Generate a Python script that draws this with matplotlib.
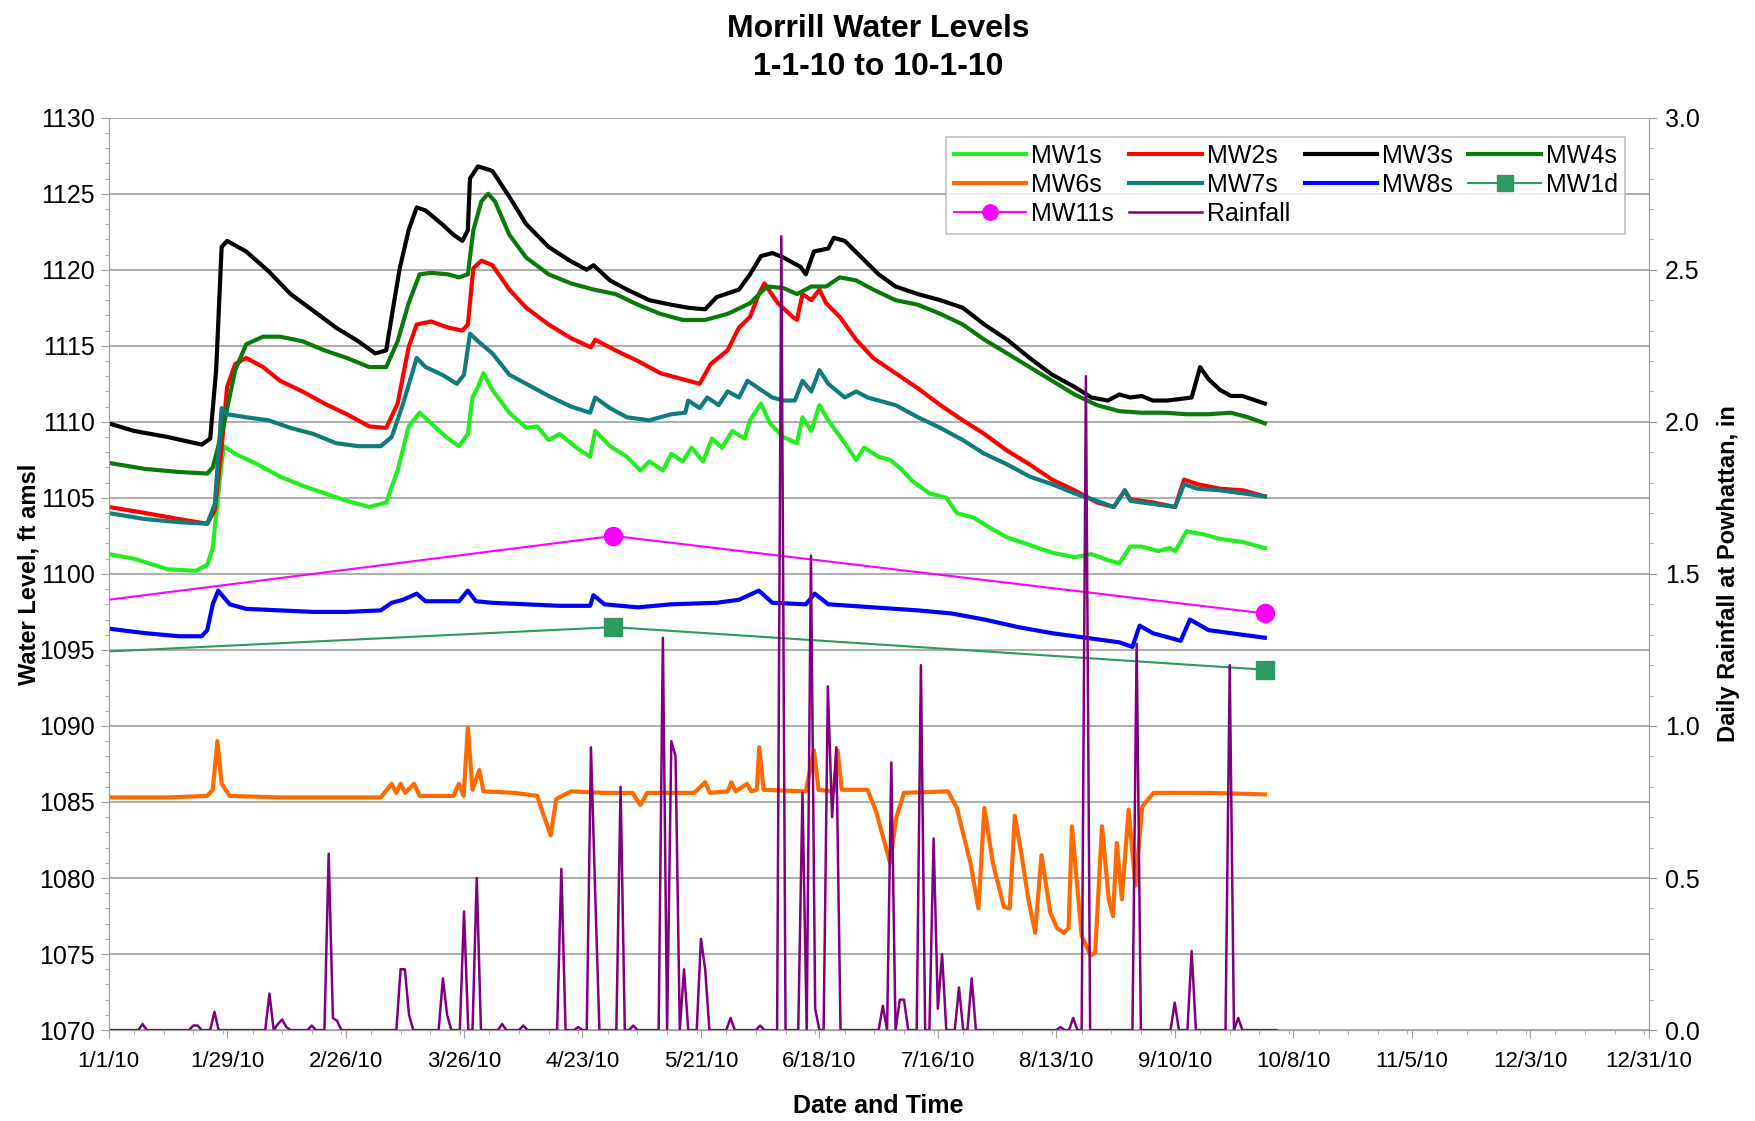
"""
Morrill water levels, Jan 1 - Oct 1 2010, with daily rainfall at Powhattan
"""

import numpy as np
import matplotlib
matplotlib.use('Agg')
import matplotlib.pyplot as plt
import matplotlib.dates as mdates
from matplotlib.ticker import MultipleLocator, FuncFormatter

plt.rcParams['font.family'] = ['Liberation Sans', 'DejaVu Sans']

# ------------------------- data (day of 2010, level ft amsl) -------------------------
mw1s = [(0, 1101.3), (6, 1101.0), (14, 1100.3), (20.6, 1100.2), (23.3, 1100.6), (24.6, 1101.7),
        (26.5, 1106.8), (27.2, 1108.4), (29.9, 1107.9), (35.2, 1107.2), (40.5, 1106.4), (45.8, 1105.8),
        (51, 1105.3), (56.3, 1104.8), (61.6, 1104.4), (65.6, 1104.7), (68.3, 1106.8), (70.9, 1109.7),
        (73.5, 1110.6), (76.2, 1109.9), (80.2, 1108.9), (82.8, 1108.4), (84.9, 1109.2), (86, 1111.6),
        (87.3, 1112.3), (88.6, 1113.2), (90.7, 1112.1), (94.7, 1110.6), (98.7, 1109.6), (101.3, 1109.7),
        (104, 1108.8), (106.6, 1109.2), (110.6, 1108.3), (113.8, 1107.7), (115, 1109.4), (118.5, 1108.4),
        (122.5, 1107.7), (125.7, 1106.8), (127.8, 1107.4), (131, 1106.8), (133, 1107.9), (135.7, 1107.4),
        (137.8, 1108.3), (140.5, 1107.4), (142.6, 1108.9), (145, 1108.3), (147.4, 1109.4), (150.3, 1108.9),
        (151.6, 1110.1), (154.2, 1111.2), (156.3, 1109.9), (159.5, 1109.0), (162.7, 1108.6), (164, 1110.3),
        (166.1, 1109.4), (168, 1111.1), (170.1, 1110.1), (174, 1108.6), (176.7, 1107.5), (178.6, 1108.3),
        (182, 1107.7), (184.7, 1107.5), (187.3, 1106.9), (190, 1106.1), (194, 1105.3), (198, 1105.0),
        (200.5, 1104.0), (204.5, 1103.7), (208.5, 1103.0), (212.4, 1102.4), (217.7, 1101.9), (223, 1101.4),
        (228.3, 1101.1), (232.3, 1101.3), (236.2, 1100.9), (238.9, 1100.7), (241.5, 1101.8), (244.2, 1101.8),
        (248.1, 1101.5), (250.8, 1101.7), (252.1, 1101.5), (254.8, 1102.8), (258.8, 1102.6), (262.7, 1102.3),
        (268, 1102.1), (273.3, 1101.7)]

mw2s = [(0, 1104.4), (8.7, 1104.0), (16.7, 1103.6), (23.3, 1103.3), (25.1, 1104.2), (26.7, 1108.3),
        (28, 1112.3), (29.9, 1113.8), (32.5, 1114.2), (36.5, 1113.6), (40.5, 1112.7), (45.8, 1112.0),
        (51, 1111.2), (56.3, 1110.5), (61.6, 1109.7), (65.6, 1109.6), (68.3, 1111.2), (70.9, 1114.9),
        (72.8, 1116.4), (76.2, 1116.6), (80.2, 1116.2), (83.6, 1116.0), (84.9, 1116.4), (86.2, 1120.1),
        (88.1, 1120.6), (90.7, 1120.3), (94.7, 1118.7), (98.7, 1117.5), (104, 1116.4), (109.3, 1115.5),
        (114, 1114.9), (115, 1115.4), (119.8, 1114.7), (125.1, 1114.0), (130.4, 1113.2), (135.7, 1112.8),
        (139.7, 1112.5), (142.3, 1113.8), (146.3, 1114.7), (149, 1116.2), (151.6, 1116.9), (153.7, 1118.4),
        (155, 1119.1), (158.2, 1117.8), (161.7, 1116.9), (162.7, 1116.7), (164, 1118.4), (166.1, 1118.0),
        (168, 1118.7), (169.6, 1117.8), (172.8, 1116.9), (176.7, 1115.4), (180.7, 1114.2), (186, 1113.2),
        (191.3, 1112.2), (196.6, 1111.1), (201.9, 1110.1), (207, 1109.2), (212.4, 1108.1), (217.7, 1107.2),
        (223, 1106.2), (228.3, 1105.5), (233.6, 1104.7), (237.6, 1104.4), (240.2, 1105.5), (241.5, 1104.9),
        (246.8, 1104.7), (252.1, 1104.4), (254.2, 1106.2), (257.4, 1105.9), (262.7, 1105.6), (268, 1105.5),
        (273.3, 1105.1)]

mw3s = [(0, 1109.9), (6, 1109.4), (14, 1109.0), (22, 1108.5), (24, 1108.9), (25.4, 1113.4),
        (26.7, 1121.5), (28, 1121.9), (32.5, 1121.2), (37.8, 1119.9), (43, 1118.4), (48.4, 1117.3),
        (53.7, 1116.2), (59, 1115.3), (63, 1114.5), (65.6, 1114.7), (67, 1117.1), (68.8, 1120.1),
        (70.9, 1122.6), (72.8, 1124.1), (74.9, 1123.9), (78.8, 1123.0), (81.5, 1122.3), (83.6, 1121.9),
        (84.9, 1122.6), (85.4, 1126.0), (87.3, 1126.8), (90.7, 1126.5), (94.7, 1124.8), (98.7, 1123.0),
        (104, 1121.5), (109, 1120.6), (113, 1120.0), (114.6, 1120.3), (118.5, 1119.3), (122.5, 1118.7),
        (127.8, 1118.0), (133, 1117.7), (137, 1117.5), (141, 1117.4), (143.7, 1118.2), (149, 1118.7),
        (151.6, 1119.7), (154.2, 1120.9), (156.9, 1121.1), (159.5, 1120.8), (163.5, 1120.2), (164.8, 1119.7),
        (166.7, 1121.2), (170.1, 1121.4), (171.4, 1122.1), (174, 1121.9), (178, 1120.8), (182, 1119.7),
        (186, 1118.9), (191.3, 1118.4), (196.6, 1118.0), (201.9, 1117.5), (207, 1116.4), (212.4, 1115.4),
        (217.7, 1114.2), (223, 1113.1), (228.3, 1112.3), (232.3, 1111.6), (236.2, 1111.4), (238.9, 1111.8),
        (241.5, 1111.6), (244.2, 1111.7), (246.8, 1111.4), (250.3, 1111.4), (256, 1111.6), (258, 1113.6),
        (260, 1112.8), (262.7, 1112.1), (265.3, 1111.7), (268, 1111.7), (273.3, 1111.2)]

mw4s = [(0, 1107.3), (8.7, 1106.9), (16.7, 1106.7), (23.3, 1106.6), (24.6, 1107.0), (27.2, 1109.8),
        (29.9, 1113.4), (32.5, 1115.1), (36.5, 1115.6), (40.5, 1115.6), (45.8, 1115.3), (51, 1114.7),
        (56.3, 1114.2), (61.6, 1113.6), (65.6, 1113.6), (68.3, 1115.3), (70.9, 1117.8), (73.5, 1119.7),
        (76.2, 1119.8), (80.2, 1119.7), (82.8, 1119.5), (84.9, 1119.7), (86.2, 1122.6), (88.1, 1124.5),
        (89.7, 1125.0), (91.3, 1124.5), (94.7, 1122.3), (98.7, 1120.8), (104, 1119.7), (109.3, 1119.1),
        (114.6, 1118.7), (119.8, 1118.4), (125.1, 1117.7), (130.4, 1117.1), (135.7, 1116.7), (141, 1116.7),
        (146.3, 1117.1), (151.6, 1117.8), (155.6, 1118.9), (159.5, 1118.8), (162.7, 1118.4), (166.1, 1118.9),
        (169.6, 1118.9), (172.8, 1119.5), (176.7, 1119.3), (180.7, 1118.7), (186, 1118.0), (191.3, 1117.7),
        (196.6, 1117.1), (201.9, 1116.4), (207, 1115.4), (212.4, 1114.5), (217.7, 1113.6), (223, 1112.7),
        (228.3, 1111.8), (233.6, 1111.1), (238.9, 1110.7), (244.2, 1110.6), (249.5, 1110.6), (254.8, 1110.5),
        (260, 1110.5), (265.3, 1110.6), (269.3, 1110.3), (273.3, 1109.9)]

mw6s = [(0, 1085.3), (14, 1085.3), (23.3, 1085.4), (24.6, 1085.8), (25.7, 1089.0), (26.7, 1086.2),
        (28.6, 1085.4), (40.5, 1085.3), (53.7, 1085.3), (64.3, 1085.3), (66.9, 1086.2), (68, 1085.6),
        (69, 1086.2), (70.1, 1085.6), (72.2, 1086.2), (73.5, 1085.4), (81.5, 1085.4), (82.8, 1086.2),
        (83.9, 1085.4), (84.9, 1089.9), (86, 1085.8), (87.6, 1087.1), (88.6, 1085.7), (96, 1085.6),
        (101.3, 1085.4), (102.6, 1084.3), (104.5, 1082.8), (105.8, 1085.2), (109.3, 1085.7), (117.2, 1085.6),
        (123.8, 1085.6), (125.7, 1084.8), (127.3, 1085.6), (138.4, 1085.6), (141, 1086.3), (142.1, 1085.6),
        (146.3, 1085.7), (147.2, 1086.3), (148.2, 1085.7), (150.9, 1086.2), (151.9, 1085.7), (153.2, 1085.8),
        (153.8, 1088.6), (154.8, 1085.8), (164.8, 1085.7), (166.7, 1088.4), (167.8, 1085.8), (171.4, 1085.7),
        (172.3, 1088.4), (173.3, 1085.8), (179.4, 1085.8), (181.5, 1084.3), (184.7, 1081.0), (186.2, 1084.0),
        (188, 1085.6), (198.4, 1085.7), (200.5, 1084.6), (203.7, 1081.0), (205.6, 1078.0), (207, 1084.6),
        (209, 1081.0), (211.6, 1078.1), (213, 1078.0), (214.2, 1084.1), (215.8, 1081.5), (217.4, 1078.6),
        (219, 1076.4), (220.5, 1081.5), (222.6, 1077.7), (224.2, 1076.7), (225.8, 1076.4), (226.9, 1076.7),
        (227.7, 1083.4), (230, 1076.2), (232.1, 1074.9), (233.2, 1075.1), (234.8, 1083.4), (236.4, 1078.6),
        (237.4, 1077.5), (238.3, 1082.3), (239.5, 1078.6), (241.1, 1084.5), (242.7, 1079.5), (244.3, 1084.7),
        (247, 1085.6), (260, 1085.6), (273.3, 1085.5)]

mw7s = [(0, 1104.0), (8.7, 1103.6), (16.7, 1103.4), (23.3, 1103.3), (25.1, 1104.6), (26.7, 1110.9),
        (28, 1110.5), (32.5, 1110.3), (37.8, 1110.1), (43, 1109.6), (48.4, 1109.2), (53.7, 1108.6),
        (59, 1108.4), (64.3, 1108.4), (66.9, 1109.0), (69.6, 1111.2), (72.8, 1114.2), (74.9, 1113.6),
        (78.8, 1113.1), (82.3, 1112.5), (84, 1113.1), (85.4, 1115.8), (87.3, 1115.3), (90.7, 1114.5),
        (94.7, 1113.1), (98.7, 1112.5), (104, 1111.7), (109.3, 1111.0), (113.8, 1110.6), (115, 1111.6),
        (118.5, 1110.9), (122.5, 1110.3), (127.8, 1110.1), (133, 1110.5), (136.3, 1110.6), (137, 1111.4),
        (139.7, 1110.9), (141.5, 1111.6), (144.2, 1111.1), (146.3, 1112.0), (149, 1111.6), (151, 1112.7),
        (154.2, 1112.1), (156.9, 1111.6), (159.5, 1111.4), (162.2, 1111.4), (164, 1112.7), (166.1, 1112.0),
        (168, 1113.4), (170.1, 1112.5), (174, 1111.6), (176.7, 1112.0), (179.4, 1111.6), (182, 1111.4),
        (186, 1111.1), (191.3, 1110.3), (196.6, 1109.6), (201.9, 1108.8), (207, 1107.9), (212.4, 1107.2),
        (217.7, 1106.4), (223, 1105.9), (228.3, 1105.3), (233.6, 1104.8), (237.6, 1104.4), (240.2, 1105.5),
        (241.5, 1104.8), (246.8, 1104.6), (252.1, 1104.4), (254.2, 1105.9), (257.4, 1105.6), (262.7, 1105.5),
        (268, 1105.3), (273.3, 1105.1)]

mw8s = [(0, 1096.4), (8.7, 1096.1), (16.7, 1095.9), (22, 1095.9), (23.3, 1096.3), (24.6, 1098.0),
        (25.9, 1098.9), (28.6, 1098.0), (32.5, 1097.7), (40.5, 1097.6), (48.4, 1097.5), (56.3, 1097.5),
        (64.3, 1097.6), (66.9, 1098.1), (69.6, 1098.3), (72.8, 1098.7), (74.9, 1098.2), (78.8, 1098.2),
        (82.8, 1098.2), (84.9, 1098.9), (86.8, 1098.2), (90.7, 1098.1), (98.7, 1098.0), (106.6, 1097.9),
        (113.8, 1097.9), (114.6, 1098.6), (117.2, 1098.0), (125.1, 1097.8), (133, 1098.0), (143.7, 1098.1),
        (149, 1098.3), (153.7, 1098.9), (156.9, 1098.1), (164.8, 1098.0), (166.9, 1098.7), (170.1, 1098.0),
        (180.7, 1097.8), (191.3, 1097.6), (199.2, 1097.4), (207, 1097.0), (215, 1096.5), (223, 1096.1),
        (231, 1095.8), (238.9, 1095.5), (242, 1095.2), (243.7, 1096.6), (246.8, 1096.1), (250.8, 1095.8),
        (253.4, 1095.6), (255.6, 1097.0), (260, 1096.3), (265.3, 1096.1), (273.3, 1095.8)]

mw1d = [(0, 1094.9), (119.3, 1096.5), (273.3, 1093.7)]
mw11s = [(0, 1098.3), (119.3, 1102.5), (273.3, 1097.4)]

# daily rainfall at Powhattan (in), days with no entry are zero
rain_last_day = 276
rain_events = [(8, 0.02), (20, 0.015), (21, 0.015), (25, 0.06), (38, 0.12), (40, 0.02), (41, 0.035),
               (42, 0.01), (48, 0.015), (52, 0.58), (53, 0.04), (54, 0.03), (69, 0.2), (70, 0.2),
               (71, 0.05), (79, 0.17), (80, 0.05), (84, 0.39), (87, 0.5), (93, 0.02), (98, 0.015),
               (107, 0.53), (111, 0.01), (114, 0.93), (115, 0.45), (121, 0.8), (124, 0.015),
               (131, 1.29), (133, 0.95), (134, 0.9), (136, 0.2), (140, 0.3), (141, 0.2), (147, 0.04),
               (154, 0.015), (159, 2.61), (164, 0.78), (166, 1.56), (167, 0.07), (170, 1.13),
               (171, 0.7), (172, 0.93), (183, 0.08), (185, 0.88), (187, 0.1), (188, 0.1), (192, 1.2),
               (195, 0.63), (196, 0.07), (197, 0.25), (201, 0.14), (204, 0.17), (225, 0.01),
               (228, 0.04), (231, 2.15), (243, 1.27), (252, 0.09), (256, 0.26), (265, 1.2), (267, 0.04)]

tick_dates = ['2010-01-01', '2010-01-29', '2010-02-26', '2010-03-26', '2010-04-23', '2010-05-21',
              '2010-06-18', '2010-07-16', '2010-08-13', '2010-09-10', '2010-10-08', '2010-11-05',
              '2010-12-03', '2010-12-31']

# ------------------------------------ plot ------------------------------------
t0 = mdates.date2num(np.datetime64('2010-01-01'))


def series(pairs):
    arr = np.array(pairs, dtype=float)
    return t0 + arr[:, 0], arr[:, 1]


fig = plt.figure(figsize=(17.56, 11.21), dpi=100)
ax = fig.add_axes([0.0619, 0.0811, 0.8769, 0.8139])
ax2 = ax.twinx()

lw = 3.0
handles = {}
for name, data, color in [('MW1s', mw1s, '#22ee22'), ('MW2s', mw2s, '#ff0000'),
                          ('MW3s', mw3s, '#000000'), ('MW4s', mw4s, '#0b7a0b'),
                          ('MW6s', mw6s, '#ff6a00'), ('MW7s', mw7s, '#107c7c'),
                          ('MW8s', mw8s, '#0000ff')]:
    x, y = series(data)
    handles[name], = ax.plot(x, y, color=color, lw=lw, label=name, solid_joinstyle='round')

x, y = series(mw1d)
handles['MW1d'], = ax.plot(x, y, color='#2e9960', lw=1.5, marker='s', ms=13,
                           markevery=[1, 2], label='MW1d')
x, y = series(mw11s)
handles['MW11s'], = ax.plot(x, y, color='#ff00ff', lw=1.5, marker='o', ms=13,
                            markevery=[1, 2], label='MW11s')

rain = np.zeros(rain_last_day + 1)
for d, r in rain_events:
    rain[d] = r
handles['Rainfall'], = ax2.plot(t0 + np.arange(rain_last_day + 1), rain, color='#800080',
                                lw=1.8, label='Rainfall')

# axes limits / ticks
ax.set_xlim(t0, t0 + 364)
ax.set_ylim(1070, 1130)
ax2.set_ylim(0, 3.0)

ax.set_xticks([mdates.date2num(np.datetime64(d)) for d in tick_dates])
ax.xaxis.set_minor_locator(MultipleLocator(7))
ax.xaxis.set_major_formatter(FuncFormatter(
    lambda v, p: '{}/{}/{}'.format(mdates.num2date(v).month, mdates.num2date(v).day,
                                   mdates.num2date(v).year % 100)))
ax.yaxis.set_major_locator(MultipleLocator(5))
ax.yaxis.set_minor_locator(MultipleLocator(1))
ax2.yaxis.set_major_locator(MultipleLocator(0.5))
ax2.yaxis.set_minor_locator(MultipleLocator(0.1))
ax2.yaxis.set_major_formatter(FuncFormatter(lambda v, p: '%.1f' % v))

gcol = '#a0a0a0'
ax.yaxis.grid(True, color=gcol, lw=1.2)
ax.set_axisbelow(True)
for a in (ax, ax2):
    for s in a.spines.values():
        s.set_color(gcol)
    a.spines['top'].set_visible(False)
ax.tick_params(axis='both', which='both', direction='out', color=gcol)
ax2.tick_params(axis='both', which='both', direction='out', color=gcol)
ax.tick_params(axis='y', which='major', length=6, labelsize=18, pad=4)
ax.tick_params(axis='y', which='minor', length=3)
ax.tick_params(axis='x', which='major', length=6, labelsize=16, pad=9)
ax.tick_params(axis='x', which='minor', length=3)
ax2.tick_params(axis='y', which='major', length=6, labelsize=18, pad=6)
ax2.tick_params(axis='y', which='minor', length=3)

# labels / title
ax.set_xlabel('Date and Time', fontsize=18, fontweight='bold', labelpad=16)
ax.set_ylabel('Water Level, ft amsl', fontsize=17, fontweight='bold', labelpad=-1)
ax2.set_ylabel('Daily Rainfall at Powhattan, in', fontsize=17, fontweight='bold', labelpad=12)
ax.set_title('Morrill Water Levels\n1-1-10 to 10-1-10', fontsize=23, fontweight='bold',
             pad=31, linespacing=1.35)

# legend, row-major like the original
order = ['MW1s', 'MW6s', 'MW11s', 'MW2s', 'MW7s', 'Rainfall', 'MW3s', 'MW8s', 'MW4s', 'MW1d']
leg = ax2.legend([handles[k] for k in order], order, ncol=4, loc='upper right',
                 bbox_to_anchor=(0.993, 0.993), fontsize=18, frameon=True, fancybox=False,
                 edgecolor='#b0b0b0', borderpad=0.3, labelspacing=0.2, handlelength=2.9,
                 handletextpad=0.2, columnspacing=0.6, markerscale=0.85)
leg.get_frame().set_linewidth(1.2)

plt.savefig('out.png', dpi=100)
plt.close()
